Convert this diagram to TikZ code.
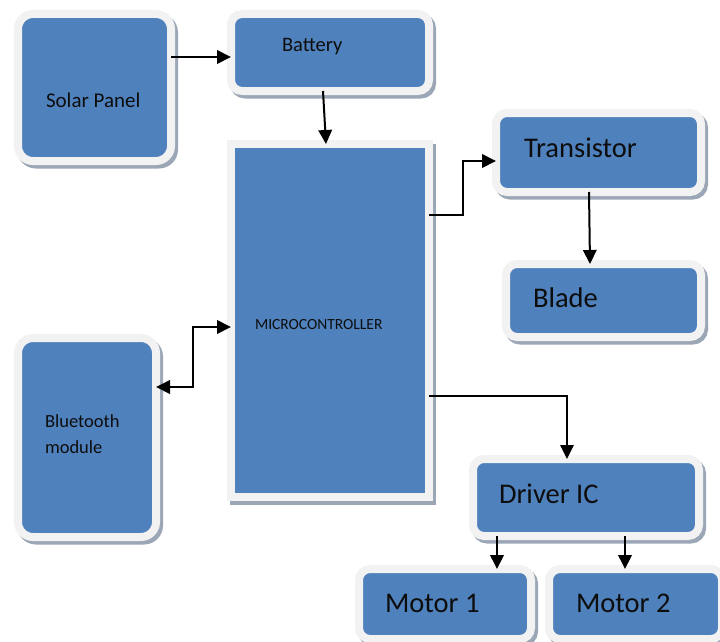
\documentclass[tikz,border=0pt]{standalone}
\usepackage{fontspec}
\setmainfont{Carlito}
\usetikzlibrary{arrows.meta,shadows}
\definecolor{boxblue}{HTML}{4F81BD}
\definecolor{rimgray}{HTML}{F2F2F2}
\definecolor{shgray}{HTML}{9BA6B6}
\definecolor{txtblack}{HTML}{0D0D0D}
\tikzset{
  box/.style={draw=rimgray, fill=boxblue, line width=8pt, outer sep=0pt, inner sep=0pt,
    general shadow={fill=shgray, draw=shgray, line width=8pt, shadow xshift=3pt, shadow yshift=-3.5pt}},
  biground/.style={box, rounded corners=15pt},
  smallround/.style={box, rounded corners=11pt},
  sharpbox/.style={box, sharp corners},
  txt/.style={inner sep=0pt, outer sep=0pt, text=txtblack, anchor=base west},
  bigtxt/.style={txt, font=\fontsize{28.5}{34}\selectfont},
  tip/.style={Triangle[length=14pt,width=13.5pt]},
  arr/.style={line width=2pt, -{Triangle[length=14pt,width=13.5pt]}},
  thinarr/.style={line width=1.2pt, -{Triangle[length=14pt,width=13.5pt]}},
}
\begin{document}
\begin{tikzpicture}[x=1pt,y=-1pt]
\useasboundingbox (0,0) rectangle (720,642);
% boxes
\node[biground, minimum width=153pt, minimum height=147pt] (solar) at (94.5,87.5) {};
\node[smallround, minimum width=198pt, minimum height=77pt] (battery) at (330,52.5) {};
\node[sharpbox, minimum width=198pt, minimum height=353pt] (micro) at (330,320.5) {};
\node[biground, minimum width=138pt, minimum height=199pt] (bt) at (87,437.5) {};
\node[smallround, minimum width=205pt, minimum height=79pt] (tr) at (598.5,152.5) {};
\node[smallround, minimum width=195pt, minimum height=73pt] (blade) at (603.5,300.5) {};
\node[smallround, minimum width=226pt, minimum height=77pt] (driver) at (586,497.5) {};
\node[smallround, minimum width=172pt, minimum height=70pt] (m1) at (445,604) {};
\node[smallround, minimum width=173pt, minimum height=70pt] (m2) at (635.5,604) {};
% texts
\node[txt, font=\fontsize{21}{25}\selectfont] (solar-t) at (46,107) {Solar Panel};
\node[txt, font=\fontsize{20.5}{25}\selectfont] (battery-t) at (282,52) {Battery};
\node[txt, font=\fontsize{15.5}{19}\selectfont] (micro-t) at (255,329) {MICROCONTROLLER};
\node[txt, font=\fontsize{18.5}{26}\selectfont, align=left] (bt-t) at (45,453) {Bluetooth\\module};
\node[bigtxt] (tr-t) at (524,157) {Transistor};
\node[bigtxt] (blade-t) at (533,307) {Blade};
\node[bigtxt] (driver-t) at (499,503) {Driver IC};
\node[bigtxt] (m1-t) at (385,612) {Motor 1};
\node[bigtxt] (m2-t) at (576,612) {Motor 2};
% connectors
\draw[arr] (solar.east |- 0,57) -- (battery.west |- 0,57);
\draw[arr] (battery.south -| 323,0) -- (micro.north -| 326,0);
\draw[line width=2pt, {Triangle[length=14pt,width=13.5pt]}-{Triangle[length=14pt,width=13.5pt]}]
  (micro.west |- 0,327) -| (193,387) -- (bt.east |- 0,387);
\draw[arr] (micro.east |- 0,215) -| (463,161) -- (tr.west |- 0,161);
\draw[arr] (tr.south -| 589,0) -- (blade.north -| 590,0);
\draw[thinarr] (micro.east |- 0,396) -| (driver.north -| 567,0);
\draw[arr] (driver.south -| 497,0) -- (m1.north -| 497,0);
\draw[arr] (driver.south -| 625,0) -- (m2.north -| 625,0);
\end{tikzpicture}
\end{document}
